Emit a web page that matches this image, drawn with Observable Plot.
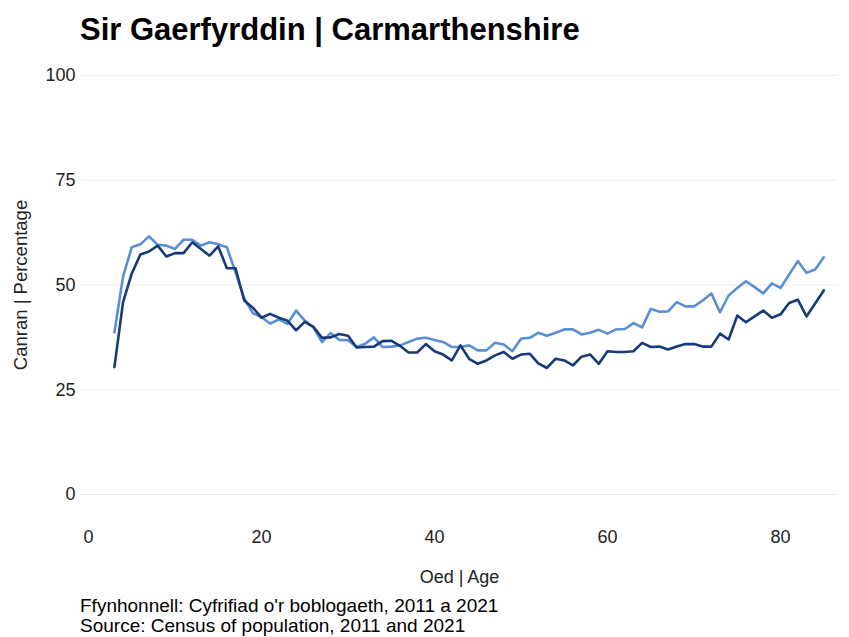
<!DOCTYPE html>
<html><head><meta charset="utf-8">
<script src="https://cdn.jsdelivr.net/npm/d3@7"></script>
<script src="https://cdn.jsdelivr.net/npm/@observablehq/plot@0.6"></script>
<style>
body{margin:0;background:#fff;font-family:"Liberation Sans",Arial,sans-serif;}
#wrap{position:relative;width:849px;height:637px;overflow:hidden}
#title{position:absolute;left:80px;top:12px;font-size:31px;line-height:36px;font-weight:bold;color:#000;margin:0;white-space:nowrap}
#chart{position:absolute;left:0;top:0}
#cap{position:absolute;left:80px;top:596px;font-size:19px;line-height:20px;color:#000;white-space:nowrap}
</style></head>
<body>
<div id="wrap">
<div id="chart"></div>
<div id="title">Sir Gaerfyrddin | Carmarthenshire</div>
<div id="cap">Ffynhonnell: Cyfrifiad o'r boblogaeth, 2011 a 2021<br>Source: Census of population, 2011 and 2021</div>
</div>
<script>
const ages = d3.range(3, 86);
const series = ["2011", "2021"];
const values2011 = [38.7,52,59,59.7,61.6,59.6,59.4,58.6,60.8,60.8,59.4,60.2,59.7,59,53,46.8,43.3,42.3,40.8,41.8,40.7,43.9,41.5,39.9,36.4,38.5,36.9,36.8,35.2,36,37.5,35.2,35.3,35.6,36.4,37.2,37.4,36.9,36.4,35.2,35.2,35.6,34.4,34.4,36.2,35.8,34.2,37.2,37.4,38.6,37.9,38.6,39.4,39.4,38.2,38.6,39.3,38.4,39.4,39.5,40.9,39.9,44.3,43.6,43.7,45.9,44.9,44.9,46.3,48,43.5,47.5,49.3,50.9,49.5,48,50.4,49.3,52.5,55.7,52.9,53.7,56.6];
const values2021 = [30.4,45.9,52.7,57.3,58,59.4,56.8,57.6,57.6,60.2,58.6,57,59.2,54,54,46.3,44.6,42.2,43.1,42.2,41.5,39.2,41.2,40,37.4,37.5,38.3,37.9,35.1,35.2,35.3,36.6,36.7,35.5,33.9,33.9,35.9,34.2,33.4,32,35.6,32.4,31.2,32,33.2,34,32.4,33.4,33.6,31.3,30.2,32.4,32,30.8,32.9,33.4,31.2,34.2,34,34,34.2,36.2,35.2,35.3,34.6,35.3,35.9,35.9,35.3,35.3,38.4,37,42.7,41.1,42.5,43.9,42.2,43,45.7,46.5,42.5,45.6,48.7];
const yTicks = [0, 25, 50, 75, 100];
const xTicks = [0, 20, 40, 60, 80];
const colors = ["#5a8fd4", "#173a78"];

const data = [];
ages.forEach((a, i) => {
  data.push({age: a, value: values2011[i], year: series[0]});
  data.push({age: a, value: values2021[i], year: series[1]});
});

const chart = Plot.plot({
  width: 849,
  height: 637,
  marginLeft: 80,
  marginRight: 11,
  marginTop: 54,
  marginBottom: 122,
  style: {fontFamily: "'Liberation Sans', Arial, sans-serif", fontSize: "18px", color: "#000", background: "#fff"},
  x: {domain: [-0.92, 86.7]},
  y: {domain: [-5, 105]},
  color: {domain: series, range: colors},
  marks: [
    Plot.gridY(yTicks, {stroke: "#ebebeb", strokeOpacity: 1, strokeWidth: 1}),
    Plot.axisY(yTicks, {tickSize: 0, tickPadding: 5, fontSize: 18, label: null, fill: "#222"}),
    Plot.axisY({label: "Canran | Percentage", ticks: [], tickSize: 0, labelAnchor: "center", labelArrow: "none", labelOffset: 67, fontSize: 18.5, fill: "#222"}),
    Plot.axisX(xTicks, {tickSize: 0, tickPadding: 15, fontSize: 18, label: null, fill: "#222"}),
    Plot.axisX({label: "Oed | Age", ticks: [], tickSize: 0, labelAnchor: "center", labelArrow: "none", labelOffset: 67, fontSize: 18, fill: "#222"}),
    Plot.line(data, {x: "age", y: "value", z: "year", stroke: "year", strokeWidth: 2.6, strokeLinejoin: "round"})
  ]
});
document.getElementById("chart").appendChild(chart);
</script>
</body></html>
